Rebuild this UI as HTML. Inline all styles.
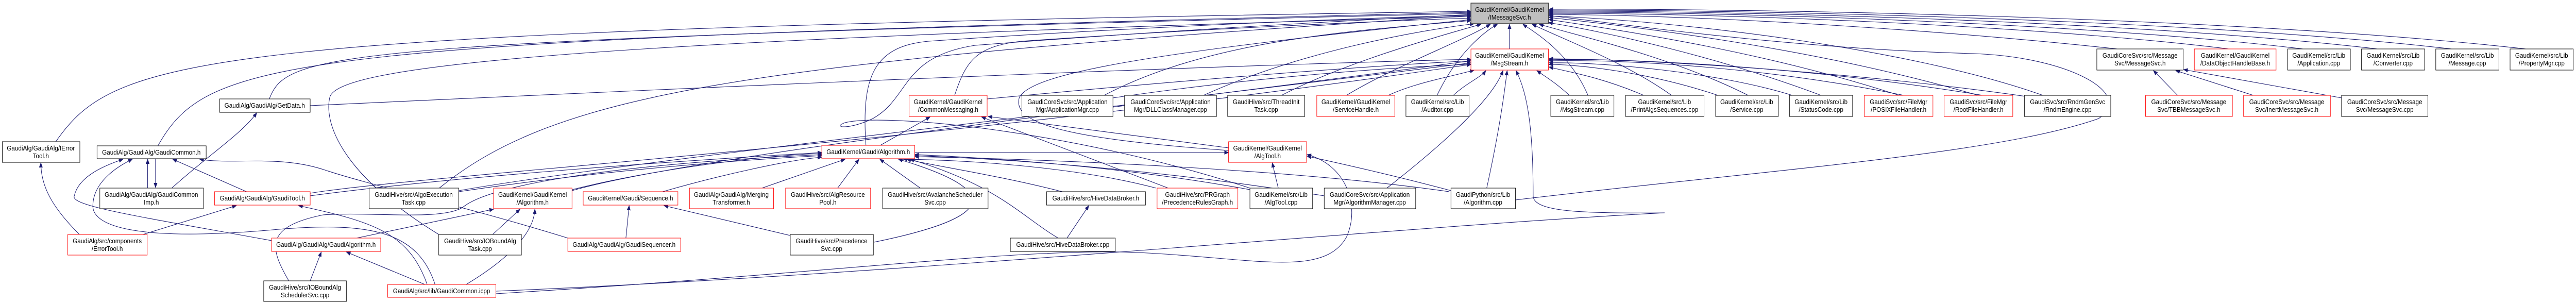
<!DOCTYPE html>
<html><head><meta charset="utf-8"><style>
html,body{margin:0;padding:0;background:#fff;width:100%;height:100%;overflow:hidden;}
svg{display:block;position:absolute;left:0;top:0;width:100vw;height:100vh;}
text{font-family:"Liberation Sans",Arial,sans-serif;font-size:13px;fill:#000;text-anchor:middle;}
.e{fill:none;stroke:#191970;stroke-width:1.1;marker-end:url(#ah);}
.b{fill:#fff;stroke:#000;stroke-width:1;}
.r{fill:#fff;stroke:#ff0000;stroke-width:1;}
</style></head><body>
<svg viewBox="0 0 5548 588" preserveAspectRatio="none" xmlns="http://www.w3.org/2000/svg">
<defs><marker id="ah" markerWidth="10" markerHeight="8" refX="9" refY="4" orient="auto" markerUnits="userSpaceOnUse"><path d="M0,0 L10,4 L0,8 z" fill="#191970"/></marker></defs>
<g>
<path class="e" d="M3251,95 L3251,47"/>
<path class="e" d="M120,275 C250,110 400,60 3168,22"/>
<path class="e" d="M340,283 C450,110 600,80 3168,24"/>
<path class="e" d="M580,192 C620,100 700,80 3168,26"/>
<path class="e" d="M946,365 C1200,180 1600,120 3168,30"/>
<path class="e" d="M945,455 C720,330 700,230 710,190 C720,130 1200,80 3168,32"/>
<path class="e" d="M1865,282 C1855,150 1880,90 2000,80 C2400,55 2900,35 3168,30"/>
<path class="e" d="M2056,185 C2080,120 2100,90 2200,80 C2600,55 3000,40 3168,35"/>
<path class="e" d="M2378,185 C2600,80 2900,60 3168,40"/>
<path class="e" d="M2592,185 C2800,100 3050,60 3175,46"/>
<path class="e" d="M2760,185 C2900,120 3100,70 3190,47"/>
<path class="e" d="M2900,185 C3000,130 3150,80 3210,47"/>
<path class="e" d="M3095,185 C3140,100 3200,60 3225,47"/>
<path class="e" d="M3420,185 C3380,100 3300,60 3280,47"/>
<path class="e" d="M3600,185 C3500,120 3350,70 3300,47"/>
<path class="e" d="M3765,185 C3600,110 3400,70 3315,47"/>
<path class="e" d="M3922,185 C3700,110 3450,60 3335,44"/>
<path class="e" d="M4090,185 C3800,100 3500,60 3336,38"/>
<path class="e" d="M4260,185 C3900,90 3500,50 3336,34"/>
<path class="e" d="M4400,185 C4100,90 3600,40 3336,31"/>
<path class="e" d="M4560,95 C4200,60 3700,30 3336,28"/>
<path class="e" d="M4800,95 C4400,50 3700,25 3336,26"/>
<path class="e" d="M4960,95 C4500,45 3700,22 3336,24"/>
<path class="e" d="M5120,95 C4600,40 3700,20 3336,22"/>
<path class="e" d="M5280,95 C4700,35 3700,18 3336,20"/>
<path class="e" d="M5440,95 C4800,30 3700,16 3336,18"/>
<path class="e" d="M2692,365 C2300,250 1900,220 1820,238 C1790,248 1830,252 1880,230 C1960,190 1940,110 2100,88 C2500,60 2900,40 3168,28"/>
<path class="e" d="M2646,292 C2300,270 2180,240 2195,190 C2220,140 2500,100 3168,38"/>
<path class="e" d="M3264,388 C3800,330 4300,300 4520,230 C4600,180 4450,110 4250,104 C3900,95 3600,60 3336,30"/>
<path class="e" d="M668,205 C1500,170 2500,130 3168,115"/>
<path class="e" d="M668,375 C900,340 2000,280 3168,125"/>
<path class="e" d="M988,370 C1300,320 2200,230 3168,122"/>
<path class="e" d="M1232,370 C1500,300 2500,200 3168,118"/>
<path class="e" d="M1068,565 C2000,530 3000,440 3585,413 C3400,415 3302,410 3302,380 C3302,250 3290,180 3265,137"/>
<path class="e" d="M2126,192 C2500,160 2900,130 3168,118"/>
<path class="e" d="M2397,190 C2700,150 3000,130 3168,125"/>
<path class="e" d="M2990,185 C3050,160 3120,150 3175,136"/>
<path class="e" d="M3130,185 C3160,160 3190,150 3200,137"/>
<path class="e" d="M2987,365 C3150,250 3220,180 3237,137"/>
<path class="e" d="M3202,365 C3230,250 3240,180 3246,137"/>
<path class="e" d="M3380,185 C3350,160 3330,150 3310,137"/>
<path class="e" d="M3540,185 C3450,150 3380,140 3336,130"/>
<path class="e" d="M3700,185 C3550,140 3400,125 3336,125"/>
<path class="e" d="M3860,185 C3700,140 3450,120 3336,122"/>
<path class="e" d="M4100,185 C3800,130 3500,115 3336,118"/>
<path class="e" d="M4270,185 C3900,130 3500,112 3336,116"/>
<path class="e" d="M4370,188 C4000,140 3550,115 3336,114"/>
<path class="e" d="M318,365 L318,309"/>
<path class="e" d="M335,308 L335,364"/>
<path class="e" d="M531,372 L372,309"/>
<path class="e" d="M585,467 C300,420 150,400 160,380 C170,340 230,320 265,309"/>
<path class="e" d="M937,552 C900,450 800,430 600,445 C300,470 200,440 200,400 C200,350 260,320 285,309"/>
<path class="e" d="M1223,462 C1000,400 800,360 700,330 C600,300 500,320 430,309"/>
<path class="e" d="M370,365 C450,300 520,260 553,219"/>
<path class="e" d="M171,455 C110,400 88,360 88,316"/>
<path class="e" d="M308,455 L509,399"/>
<path class="e" d="M920,552 C880,450 800,430 643,399"/>
<path class="e" d="M768,462 L1063,406"/>
<path class="e" d="M1061,455 L1120,406"/>
<path class="e" d="M1004,552 C1100,500 1150,450 1152,406"/>
<path class="e" d="M668,545 L692,489"/>
<path class="e" d="M915,552 L746,489"/>
<path class="e" d="M622,545 C580,480 570,440 696,417 C800,410 960,430 1000,400 C1060,360 1300,320 1770,300"/>
<path class="e" d="M1348,462 L1355,399"/>
<path class="e" d="M1427,372 C1550,340 1700,310 1770,305"/>
<path class="e" d="M1702,457 L1430,399"/>
<path class="e" d="M988,372 C1300,330 1600,310 1770,302"/>
<path class="e" d="M1232,368 C1400,330 1650,300 1770,298"/>
<path class="e" d="M668,380 C1000,340 1500,310 1770,296"/>
<path class="e" d="M1641,365 L1820,309"/>
<path class="e" d="M1804,365 L1850,309"/>
<path class="e" d="M1982,365 L1895,309"/>
<path class="e" d="M2288,372 C2150,340 2000,320 1953,309"/>
<path class="e" d="M2490,365 C2300,320 2050,310 1945,309"/>
<path class="e" d="M2692,368 C2400,320 2100,305 1970,300"/>
<path class="e" d="M2279,462 C2200,420 2150,360 1960,309"/>
<path class="e" d="M1882,470 C2100,430 2200,380 1935,309"/>
<path class="e" d="M3121,372 C2800,330 2300,310 1970,304"/>
<path class="e" d="M2852,380 C2500,330 2200,310 1970,302"/>
<path class="e" d="M1970,296 L2646,296"/>
<path class="e" d="M1896,282 L2003,227"/>
<path class="e" d="M2516,365 L2114,227"/>
<path class="e" d="M2646,287 L2128,226"/>
<path class="e" d="M2753,365 L2740,316"/>
<path class="e" d="M3125,370 C3000,340 2900,320 2815,303"/>
<path class="e" d="M1068,570 C1800,530 2200,480 2450,490 C2700,500 2850,540 2900,460 C2930,400 2900,320 2815,300"/>
<path class="e" d="M2298,462 L2345,399"/>
<path class="e" d="M4690,185 L4638,137"/>
<path class="e" d="M4853,185 L4686,137"/>
<path class="e" d="M5043,190 L4703,135"/>
</g>
<g>
<rect x="3168" y="6" width="167" height="40" fill="#bfbfbf" stroke="#404040" stroke-width="1.5"/>
<text x="3251" y="23">GaudiKernel/GaudiKernel</text><text x="3251" y="38">/IMessageSvc.h</text>
<rect class="r" x="3168" y="95" width="167" height="41"/><text x="3251" y="112">GaudiKernel/GaudiKernel</text><text x="3251" y="127">/MsgStream.h</text>
<rect class="b" x="5" y="275" width="167" height="40"/><text x="88" y="292">GaudiAlg/GaudiAlg/IError</text><text x="88" y="307">Tool.h</text>
<rect class="b" x="209" y="283" width="235" height="25"/><text x="326" y="300">GaudiAlg/GaudiAlg/GaudiCommon.h</text>
<rect class="b" x="473" y="192" width="195" height="26"/><text x="570" y="209">GaudiAlg/GaudiAlg/GetData.h</text>
<rect class="b" x="215" y="365" width="223" height="40"/><text x="326" y="382">GaudiAlg/GaudiAlg/GaudiCommon</text><text x="326" y="397">Imp.h</text>
<rect class="r" x="462" y="372" width="206" height="26"/><text x="565" y="389">GaudiAlg/GaudiAlg/GaudiTool.h</text>
<rect class="b" x="795" y="365" width="193" height="40"/><text x="891" y="382">GaudiHive/src/AlgoExecution</text><text x="891" y="397">Task.cpp</text>
<rect class="r" x="1063" y="365" width="169" height="40"/><text x="1147" y="382">GaudiKernel/GaudiKernel</text><text x="1147" y="397">/Algorithm.h</text>
<rect class="r" x="1256" y="372" width="204" height="26"/><text x="1358" y="389">GaudiKernel/Gaudi/Sequence.h</text>
<rect class="r" x="146" y="455" width="171" height="40"/><text x="231" y="472">GaudiAlg/src/components</text><text x="231" y="487">/ErrorTool.h</text>
<rect class="r" x="585" y="462" width="235" height="26"/><text x="702" y="479">GaudiAlg/GaudiAlg/GaudiAlgorithm.h</text>
<rect class="b" x="945" y="455" width="178" height="40"/><text x="1034" y="472">GaudiHive/src/IOBoundAlg</text><text x="1034" y="487">Task.cpp</text>
<rect class="r" x="1223" y="462" width="243" height="26"/><text x="1344" y="479">GaudiAlg/GaudiAlg/GaudiSequencer.h</text>
<rect class="b" x="568" y="545" width="178" height="40"/><text x="657" y="562">GaudiHive/src/IOBoundAlg</text><text x="657" y="577">SchedulerSvc.cpp</text>
<rect class="r" x="835" y="552" width="233" height="25"/><text x="951" y="569">GaudiAlg/src/lib/GaudiCommon.icpp</text>
<rect class="r" x="1958" y="185" width="168" height="41"/><text x="2042" y="202">GaudiKernel/GaudiKernel</text><text x="2042" y="217">/CommonMessaging.h</text>
<rect class="b" x="2201" y="185" width="196" height="41"/><text x="2299" y="202">GaudiCoreSvc/src/Application</text><text x="2299" y="217">Mgr/ApplicationMgr.cpp</text>
<rect class="b" x="2422" y="185" width="198" height="41"/><text x="2521" y="202">GaudiCoreSvc/src/Application</text><text x="2521" y="217">Mgr/DLLClassManager.cpp</text>
<rect class="b" x="2644" y="185" width="166" height="41"/><text x="2727" y="202">GaudiHive/src/ThreadInit</text><text x="2727" y="217">Task.cpp</text>
<rect class="r" x="1770" y="282" width="200" height="26"/><text x="1870" y="299">GaudiKernel/Gaudi/Algorithm.h</text>
<rect class="r" x="2646" y="275" width="168" height="40"/><text x="2730" y="292">GaudiKernel/GaudiKernel</text><text x="2730" y="307">/AlgTool.h</text>
<rect class="r" x="1485" y="365" width="181" height="40"/><text x="1575" y="382">GaudiAlg/GaudiAlg/Merging</text><text x="1575" y="397">Transformer.h</text>
<rect class="r" x="1692" y="365" width="183" height="40"/><text x="1783" y="382">GaudiHive/src/AlgResource</text><text x="1783" y="397">Pool.h</text>
<rect class="b" x="1901" y="365" width="227" height="40"/><text x="2014" y="382">GaudiHive/src/AvalancheScheduler</text><text x="2014" y="397">Svc.cpp</text>
<rect class="b" x="2254" y="372" width="213" height="26"/><text x="2360" y="389">GaudiHive/src/HiveDataBroker.h</text>
<rect class="r" x="2492" y="365" width="174" height="40"/><text x="2579" y="382">GaudiHive/src/PRGraph</text><text x="2579" y="397">/PrecedenceRulesGraph.h</text>
<rect class="b" x="2692" y="365" width="135" height="40"/><text x="2759" y="382">GaudiKernel/src/Lib</text><text x="2759" y="397">/AlgTool.cpp</text>
<rect class="b" x="1702" y="455" width="179" height="40"/><text x="1791" y="472">GaudiHive/src/Precedence</text><text x="1791" y="487">Svc.cpp</text>
<rect class="b" x="2176" y="462" width="226" height="26"/><text x="2289" y="479">GaudiHive/src/HiveDataBroker.cpp</text>
<rect class="r" x="2836" y="185" width="168" height="41"/><text x="2920" y="202">GaudiKernel/GaudiKernel</text><text x="2920" y="217">/ServiceHandle.h</text>
<rect class="b" x="3028" y="185" width="136" height="41"/><text x="3096" y="202">GaudiKernel/src/Lib</text><text x="3096" y="217">/Auditor.cpp</text>
<rect class="b" x="3340" y="185" width="136" height="41"/><text x="3408" y="202">GaudiKernel/src/Lib</text><text x="3408" y="217">/MsgStream.cpp</text>
<rect class="b" x="3501" y="185" width="169" height="41"/><text x="3585" y="202">GaudiKernel/src/Lib</text><text x="3585" y="217">/PrintAlgsSequences.cpp</text>
<rect class="b" x="3695" y="185" width="135" height="41"/><text x="3762" y="202">GaudiKernel/src/Lib</text><text x="3762" y="217">/Service.cpp</text>
<rect class="b" x="3854" y="185" width="136" height="41"/><text x="3922" y="202">GaudiKernel/src/Lib</text><text x="3922" y="217">/StatusCode.cpp</text>
<rect class="r" x="4015" y="185" width="148" height="41"/><text x="4089" y="202">GaudiSvc/src/FileMgr</text><text x="4089" y="217">/POSIXFileHandler.h</text>
<rect class="r" x="4187" y="185" width="148" height="41"/><text x="4261" y="202">GaudiSvc/src/FileMgr</text><text x="4261" y="217">/RootFileHandler.h</text>
<rect class="b" x="2852" y="365" width="197" height="40"/><text x="2950" y="382">GaudiCoreSvc/src/Application</text><text x="2950" y="397">Mgr/AlgorithmManager.cpp</text>
<rect class="b" x="3125" y="365" width="139" height="40"/><text x="3194" y="382">GaudiPython/src/Lib</text><text x="3194" y="397">/Algorithm.cpp</text>
<rect class="b" x="4360" y="185" width="186" height="41"/><text x="4453" y="202">GaudiSvc/src/RndmGenSvc</text><text x="4453" y="217">/RndmEngine.cpp</text>
<rect class="b" x="4516" y="95" width="186" height="41"/><text x="4609" y="112">GaudiCoreSvc/src/Message</text><text x="4609" y="127">Svc/MessageSvc.h</text>
<rect class="r" x="4726" y="95" width="176" height="41"/><text x="4814" y="112">GaudiKernel/GaudiKernel</text><text x="4814" y="127">/DataObjectHandleBase.h</text>
<rect class="b" x="4927" y="95" width="135" height="41"/><text x="4994" y="112">GaudiKernel/src/Lib</text><text x="4994" y="127">/Application.cpp</text>
<rect class="b" x="5086" y="95" width="136" height="41"/><text x="5154" y="112">GaudiKernel/src/Lib</text><text x="5154" y="127">/Converter.cpp</text>
<rect class="b" x="5246" y="95" width="136" height="41"/><text x="5314" y="112">GaudiKernel/src/Lib</text><text x="5314" y="127">/Message.cpp</text>
<rect class="b" x="5406" y="95" width="136" height="41"/><text x="5474" y="112">GaudiKernel/src/Lib</text><text x="5474" y="127">/PropertyMgr.cpp</text>
<rect class="r" x="4621" y="185" width="187" height="41"/><text x="4714" y="202">GaudiCoreSvc/src/Message</text><text x="4714" y="217">Svc/TBBMessageSvc.h</text>
<rect class="r" x="4832" y="185" width="187" height="41"/><text x="4925" y="202">GaudiCoreSvc/src/Message</text><text x="4925" y="217">Svc/InertMessageSvc.h</text>
<rect class="b" x="5043" y="185" width="186" height="41"/><text x="5136" y="202">GaudiCoreSvc/src/Message</text><text x="5136" y="217">Svc/MessageSvc.cpp</text>
</g>
</svg>
</body></html>
